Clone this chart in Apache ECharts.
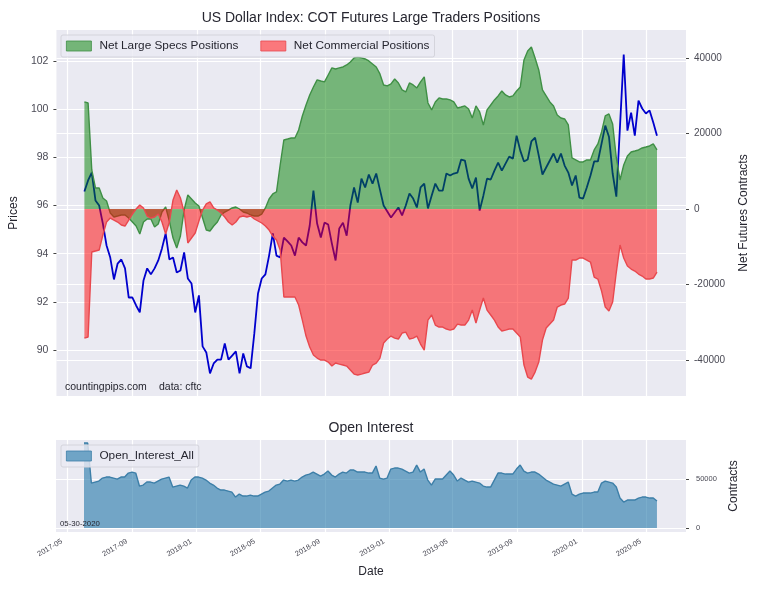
<!DOCTYPE html>
<html>
<head>
<meta charset="utf-8">
<title>US Dollar Index COT</title>
<script src="https://cdn.jsdelivr.net/npm/echarts@6/dist/echarts.min.js"></script>
<style>
html, body { margin: 0; padding: 0; background: #fff; }
#main { width: 760px; height: 591px; }
</style>
</head>
<body>
<div id="main"></div>
<script>
// weekly cot reports, first and last report date
var firstDate = '2017-06-02';
var lastDate = '2020-05-22';

var priceValues = [96.58,97.04,97.37,96.21,96.0,95.25,94.34,93.84,92.93,93.59,93.76,93.39,92.18,92.18,91.85,91.56,92.89,93.39,93.14,93.39,93.72,94.22,94.84,93.76,93.84,93.22,93.30,94.05,92.97,92.76,91.56,92.27,90.15,89.9,89.03,89.44,89.6,89.6,90.27,89.6,89.77,89.94,89.03,89.86,89.32,89.24,90.69,92.35,92.97,93.14,93.92,94.84,93.92,93.84,94.67,94.51,94.34,93.92,94.67,94.47,94.34,95.17,96.62,95.25,94.67,95.29,95.21,94.42,93.72,95.05,95.29,94.75,96.0,96.75,96.12,97.12,96.75,97.29,96.91,97.33,96.66,96.0,95.75,95.5,95.71,95.92,95.59,96.0,96.5,96.29,95.92,96.75,96.91,95.88,96.41,96.91,96.62,96.62,97.33,97.25,97.33,97.37,97.91,97.87,97.12,96.71,97.16,95.79,96.41,97.12,97.08,97.45,97.78,97.45,97.74,98.03,97.95,98.9,98.28,97.83,97.91,98.66,98.82,98.07,97.29,97.58,97.87,98.16,97.78,98.16,97.66,97.37,96.83,97.25,96.33,96.29,96.75,97.25,97.83,97.83,98.57,99.32,98.86,97.33,96.37,99.32,102.27,99.11,99.86,98.9,100.36,100.03,99.82,99.95,99.45,98.9];

var specsValues = [28360,28090,10340,5570,5570,2920,2120,-1060,-2120,-1860,-1590,-1590,-2390,-3450,-4510,-6630,-3450,-2650,-2650,-4770,-3980,-800,530,-3180,-7690,-10340,-7160,-270,3710,2650,1590,800,-2390,-5570,-5830,-4510,-3450,-1590,-800,-270,270,530,0,-800,-1060,-1590,-1860,-1860,-1330,270,2650,3980,4510,11660,18290,18550,18820,18820,20940,24650,27560,30210,32330,34190,33920,33660,35510,37370,37100,37370,37630,38160,38960,40020,40280,40020,39750,39220,38430,37630,35780,32860,32600,33130,34450,33390,31540,31010,33390,32860,32070,33660,34980,28090,26240,28360,29420,29150,29150,28890,28360,26770,27030,27300,26500,24120,27300,25710,22260,26240,27560,28890,29950,31270,30210,29680,29950,31270,32330,39490,41870,42930,40020,36840,31540,29950,28360,27300,24910,24120,23850,22260,13520,12990,12460,12460,12990,12990,15640,17230,20410,24650,25180,22530,13520,7690,11660,14050,15110,15370,15640,16170,16430,16700,17230,15640];

var commercialValues = [-34190,-33920,-11400,-11130,-10870,-6890,-3450,-2390,-2920,-3450,-4240,-4510,-2920,-1330,0,1060,270,-1860,-2390,-2120,-1330,-3450,-6630,-3450,2390,5040,2920,-800,-9010,-7690,-6360,-3180,-270,1330,1860,270,-270,-1060,-2120,-3450,-4240,-3450,-2120,-1860,-2120,-1860,-2650,-3180,-3710,-4510,-5570,-7160,-8220,-10870,-23320,-23320,-23320,-23320,-25440,-29420,-33660,-36570,-38690,-39490,-40020,-40020,-40550,-41610,-40810,-41080,-41340,-41610,-42670,-43730,-43990,-43730,-43460,-43200,-41340,-40810,-39490,-35510,-34450,-33660,-34190,-34450,-32860,-32600,-34450,-34190,-33660,-35780,-37370,-29420,-28090,-30740,-31270,-31270,-31800,-32070,-31800,-30480,-30740,-30740,-29420,-26770,-30210,-26770,-23590,-26770,-28090,-29420,-31270,-32330,-32070,-31800,-31800,-32860,-33920,-41340,-44520,-45050,-43200,-40550,-34720,-31540,-30480,-29420,-25970,-25440,-25180,-23590,-13520,-13520,-12990,-12990,-13520,-14050,-18020,-18550,-21730,-25970,-27030,-24650,-16700,-9540,-12990,-15110,-15900,-16430,-17230,-17760,-18550,-18550,-18290,-16700];

var openInterestValues = [86700,86700,45900,46920,47940,51000,52020,52020,51000,49980,52020,52020,56100,57120,56100,42840,43860,46920,46920,45900,47940,49980,51000,52020,41820,42840,43860,42840,40800,48960,52020,52020,51000,48960,45900,43860,40800,38760,38760,37740,36720,31620,34680,32640,32640,33660,32640,32640,34680,36720,37740,40800,43860,44880,48960,47940,48960,47940,48960,52020,54060,55080,57120,55080,53040,55080,58140,54060,52020,55080,57120,56100,59160,59160,57120,57120,57120,56100,56100,63240,51000,49980,51000,60180,61200,61200,60180,58140,56100,57120,64260,57120,60180,48960,43860,49980,49980,49980,54060,58140,54060,47940,51000,48960,46920,47940,46920,45900,42840,41820,41820,48960,56100,56100,55080,55080,55080,60180,64260,58140,56100,57120,57120,55080,52020,48960,46920,44880,43860,42840,44880,46920,34680,32640,34680,35700,35700,35700,36720,36720,45900,47940,46920,45900,41820,30600,26520,28560,28560,28560,30600,31620,31620,30600,30600,27540];

var dateTicks = ['2017-05-01','2017-09-01','2018-01-01','2018-05-01','2018-09-01','2019-01-01','2019-05-01','2019-09-01','2020-01-01','2020-05-01'];
var priceTicks = [90,92,94,96,98,100,102];
var contractTicks = [-40000,-20000,0,20000,40000];
var openInterestTicks = [0,50000];

// report dates, one per week
var dates = [];
var dayMs = 86400000;
for (var t = Date.parse(firstDate + 'T00:00:00Z'); t <= Date.parse(lastDate + 'T00:00:00Z'); t += 7 * dayMs) {
	dates.push(t);
}

function pairs(values) {
	return values.map(function(v, i) {
		return [dates[i], v];
	});
}

var tickStamps = dateTicks.map(function(d) {
	return Date.parse(d + 'T00:00:00Z');
});

var xMin = Date.parse('2017-04-10T00:00:00Z');
var xMax = Date.parse('2020-07-16T00:00:00Z');
var gridColor = '#ffffff';
var textColor = '#262630';
var labelColor = '#4a4a55';
var fontName = '"Liberation Sans", Arial, sans-serif';

var whiteLine = { show: true, lineStyle: { color: gridColor, width: 1.2 } };

// plain value axis holding timestamps, the ticks are the month starts above
function timeAxis(gridIndex, showLabels) {
	return {
		type: 'value',
		gridIndex: gridIndex,
		min: xMin,
		max: xMax,
		axisLine: { show: false },
		axisTick: { show: false, customValues: tickStamps },
		splitLine: whiteLine,
		axisLabel: {
			show: showLabels,
			customValues: tickStamps,
			rotate: 30,
			margin: 6,
			padding: [0, 6, 0, 0],
			fontSize: 7.5,
			color: labelColor,
			fontFamily: fontName,
			formatter: function(value) {
				return new Date(value).toISOString().slice(0, 7);
			}
		},
		name: showLabels ? 'Date' : '',
		nameLocation: 'middle',
		nameGap: 34,
		nameTextStyle: { fontSize: 12, color: textColor, fontFamily: fontName }
	};
}

function valueAxis(opt) {
	return {
		type: 'value',
		gridIndex: opt.gridIndex,
		position: opt.position,
		min: opt.min,
		max: opt.max,
		name: opt.name,
		nameLocation: 'middle',
		nameRotate: 90,
		nameGap: opt.nameGap,
		nameTextStyle: { fontSize: 12, color: textColor, fontFamily: fontName },
		axisLine: { show: false },
		axisTick: { show: true, length: 3, customValues: opt.ticks, lineStyle: { color: '#444' } },
		splitLine: whiteLine,
		axisLabel: {
			customValues: opt.ticks,
			margin: opt.margin,
			fontSize: opt.fontSize,
			color: labelColor,
			fontFamily: fontName,
			formatter: function(value) {
				return String(value);
			}
		}
	};
}

var legendBase = {
	padding: [5, 5],
	itemWidth: 25,
	itemHeight: 10,
	itemGap: 22,
	backgroundColor: 'rgba(234,234,242,0.8)',
	borderColor: '#d4d4dc',
	borderWidth: 1,
	borderRadius: 2,
	itemStyle: { borderWidth: 0.8 },
	lineStyle: { width: 0 },
	textStyle: { fontSize: 11.8, color: textColor, fontFamily: fontName, padding: [0, 0, 0, 3] }
};

var chart = echarts.init(document.getElementById('main'), null, { renderer: 'canvas' });

var option = {
	animation: false,
	backgroundColor: '#ffffff',
	title: [{
		text: 'US Dollar Index: COT Futures Large Traders Positions',
		left: 366,
		top: 6,
		textAlign: 'center',
		textStyle: { fontSize: 14, fontWeight: 'normal', color: textColor, fontFamily: fontName }
	}, {
		text: 'Open Interest',
		left: 366,
		top: 416,
		textAlign: 'center',
		textStyle: { fontSize: 14, fontWeight: 'normal', color: textColor, fontFamily: fontName }
	}],
	grid: [
		{ left: 56, top: 30, width: 630, height: 366, show: true, backgroundColor: '#EAEAF2', borderWidth: 0 },
		{ left: 56, top: 440, width: 630, height: 92, show: true, backgroundColor: '#EAEAF2', borderWidth: 0 }
	],
	legend: [Object.assign({}, legendBase, {
		left: 61,
		top: 35,
		data: [
			{ name: 'Net Large Specs Positions', icon: 'rect' },
			{ name: 'Net Commercial Positions', icon: 'rect' }
		]
	}), Object.assign({}, legendBase, {
		left: 61,
		top: 445,
		data: [{ name: 'Open_Interest_All', icon: 'rect' }]
	})],
	xAxis: [timeAxis(0, false), timeAxis(1, true)],
	yAxis: [
		valueAxis({ gridIndex: 0, position: 'left', min: 88.09, max: 103.29, ticks: priceTicks, name: 'Prices', nameGap: 33, margin: 8, fontSize: 10.5 }),
		valueAxis({ gridIndex: 0, position: 'right', min: -49540, max: 47420, ticks: contractTicks, name: 'Net Futures Contracts', nameGap: 52, margin: 8, fontSize: 10 }),
		valueAxis({ gridIndex: 1, position: 'right', min: -4000, max: 89800, ticks: openInterestTicks, name: 'Contracts', nameGap: 33, margin: 10, fontSize: 7.5 })
	],
	series: [{
		name: 'Prices',
		type: 'line',
		xAxisIndex: 0,
		yAxisIndex: 0,
		z: 1,
		showSymbol: false,
		lineStyle: { color: '#0000cd', width: 1.8 },
		data: pairs(priceValues)
	}, {
		name: 'Net Large Specs Positions',
		type: 'line',
		xAxisIndex: 0,
		yAxisIndex: 1,
		z: 2,
		showSymbol: false,
		itemStyle: { color: '#74b578', borderColor: '#3f8f45', borderWidth: 1 },
		lineStyle: { color: '#3f8f45', width: 1.4 },
		areaStyle: { color: 'rgba(0,128,0,0.5)', opacity: 1 },
		data: pairs(specsValues)
	}, {
		name: 'Net Commercial Positions',
		type: 'line',
		xAxisIndex: 0,
		yAxisIndex: 1,
		z: 3,
		showSymbol: false,
		itemStyle: { color: '#fb787c', borderColor: '#e8484e', borderWidth: 1 },
		lineStyle: { color: '#e8484e', width: 1.4 },
		areaStyle: { color: 'rgba(255,0,0,0.5)', opacity: 1 },
		data: pairs(commercialValues)
	}, {
		name: 'Open_Interest_All',
		type: 'line',
		xAxisIndex: 1,
		yAxisIndex: 2,
		z: 2,
		showSymbol: false,
		itemStyle: { color: '#6fa4c6', borderColor: '#3d7fa8', borderWidth: 1 },
		lineStyle: { color: '#3d7fa8', width: 1.4 },
		areaStyle: { color: 'rgba(34,119,168,0.6)', opacity: 1 },
		data: pairs(openInterestValues)
	}],
	graphic: [{
		type: 'text',
		left: 65,
		top: 382,
		z: 10,
		style: { text: 'countingpips.com', fontSize: 10.5, fill: textColor, fontFamily: fontName }
	}, {
		type: 'text',
		left: 159,
		top: 382,
		z: 10,
		style: { text: 'data: cftc', fontSize: 10.5, fill: textColor, fontFamily: fontName }
	}, {
		type: 'text',
		left: 60,
		top: 520,
		z: 10,
		style: { text: '05-30-2020', fontSize: 7.8, fill: textColor, fontFamily: fontName }
	}]
};

chart.setOption(option);
</script>
</body>
</html>
